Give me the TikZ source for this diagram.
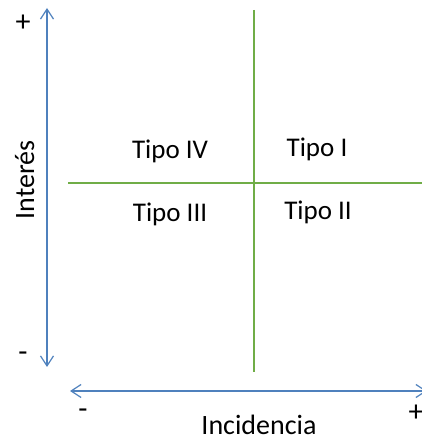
\documentclass[tikz,border=0pt]{standalone}
\usepackage{fontspec}
\setmainfont{Carlito}
\usetikzlibrary{arrows.meta}
\definecolor{axisblue}{RGB}{79,129,189}
\definecolor{gridgreen}{RGB}{112,173,71}

\begin{document}
\begin{tikzpicture}[x=1pt,y=1pt]
  \tikzset{axis/.style = {draw=axisblue, line width=1.2pt, {Straight Barb[length=10pt,width=13pt]}-{Straight Barb[length=10pt,width=13pt]}}}
  \tikzset{divider/.style = {draw=gridgreen, line width=1.5pt}}
  \tikzset{quadrant/.style = {font=\fontsize{27}{32}\selectfont, inner sep=0pt}}
  \tikzset{sign/.style = {font=\fontsize{30}{34}\selectfont, inner sep=0pt}}
  \tikzset{axislabel/.style = {font=\fontsize{28}{32}\selectfont, inner sep=0pt, anchor=base}}

  \useasboundingbox (0,0) rectangle (422,441);

  % axes
  \coordinate (IT) at (47,433);
  \coordinate (IB) at (47,74);
  \coordinate (CL) at (70,50);
  \coordinate (CR) at (427,50);
  \draw[axis] (IB) -- (IT);
  \draw[axis] (CL) -- (CR);

  % quadrant lines
  \coordinate (VT) at (254,431);
  \coordinate (VB) at (254,69);
  \coordinate (HL) at (68,258);
  \coordinate (HR) at (422,258);
  \draw[divider] (VT) -- (VB);
  \draw[divider] (HL) -- (HR);

  % quadrants
  \node[quadrant] (T4) at (170,290) {Tipo IV};
  \node[quadrant] (T1) at (317,292) {Tipo I};
  \node[quadrant] (T3) at (170,227) {Tipo III};
  \node[quadrant] (T2) at (318,229) {Tipo II};

  % labels
  \begin{scope}[shift={(34,261)}, rotate=90]
    \node[axislabel, transform shape] (interes) at (0,0) {Interés};
  \end{scope}
  \node[axislabel] (incidencia) at (259,6) {Incidencia};
  \node[sign] (plusI) at (23,418) {+};
  \node[sign] (minusI) at (23,84) {-};
  \node[sign] (minusC) at (83,27) {-};
  \node[sign] (plusC) at (416,28) {+};
\end{tikzpicture}
\end{document}
